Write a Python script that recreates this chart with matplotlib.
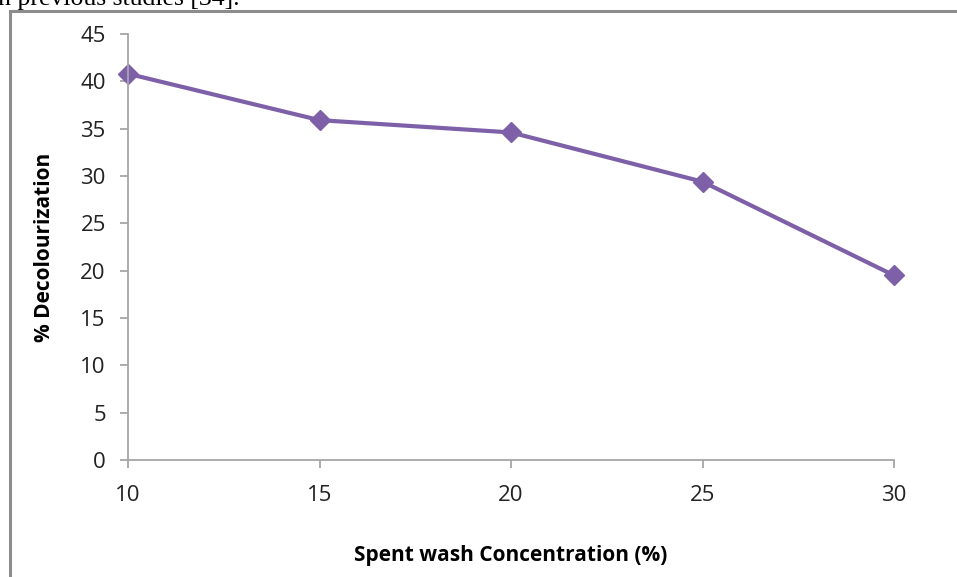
import matplotlib.pyplot as plt
from matplotlib.patches import Rectangle

# data
concentration = [10, 15, 20, 25, 30]
decolourization = [40.8, 35.9, 34.6, 29.4, 19.5]
y_ticks = [0, 5, 10, 15, 20, 25, 30, 35, 40, 45]

plt.rcParams['font.family'] = ['Open Sans', 'DejaVu Sans']

fig = plt.figure(figsize=(9.57, 5.77), dpi=100)
ax = fig.add_axes([128 / 957, 1 - 460 / 577, (894 - 128) / 957, (460 - 34) / 577])

ax.plot(concentration, decolourization, color='#7E60A8', lw=3.0,
        marker='D', markersize=10, markeredgecolor='#7E60A8', clip_on=False)

ax.set_xlim(10, 30)
ax.set_ylim(0, 45)
ax.set_xticks(concentration)
ax.set_yticks(y_ticks)

for s in ['top', 'right']:
    ax.spines[s].set_visible(False)
for s in ['left', 'bottom']:
    ax.spines[s].set_color('#A6A6A6')
    ax.spines[s].set_linewidth(1.3)
ax.tick_params(axis='both', direction='out', length=6, width=1.3, color='#A6A6A6',
               labelsize=16, labelcolor='#222222')
ax.tick_params(axis='x', pad=12)
ax.tick_params(axis='y', pad=10)

ax.set_ylabel('% Decolourization', fontsize=15, fontweight='bold', labelpad=18)
ax.set_xlabel('Spent wash Concentration (%)', fontsize=15, fontweight='bold', labelpad=28)

# outer chart frame (cut off at right and bottom) and clipped text above it
fig.patches.append(Rectangle((10 / 957, -0.1), 1.2, 1.1 - 11 / 577, transform=fig.transFigure,
                             fill=False, edgecolor='#8C8C8C', lw=2.2))
fig.text(-9 / 957, 1 - 5 / 577, 'in previous studies [34].', fontsize=18.5,
         family='Liberation Serif', va='baseline', ha='left')

fig.savefig('out.png', dpi=100)
